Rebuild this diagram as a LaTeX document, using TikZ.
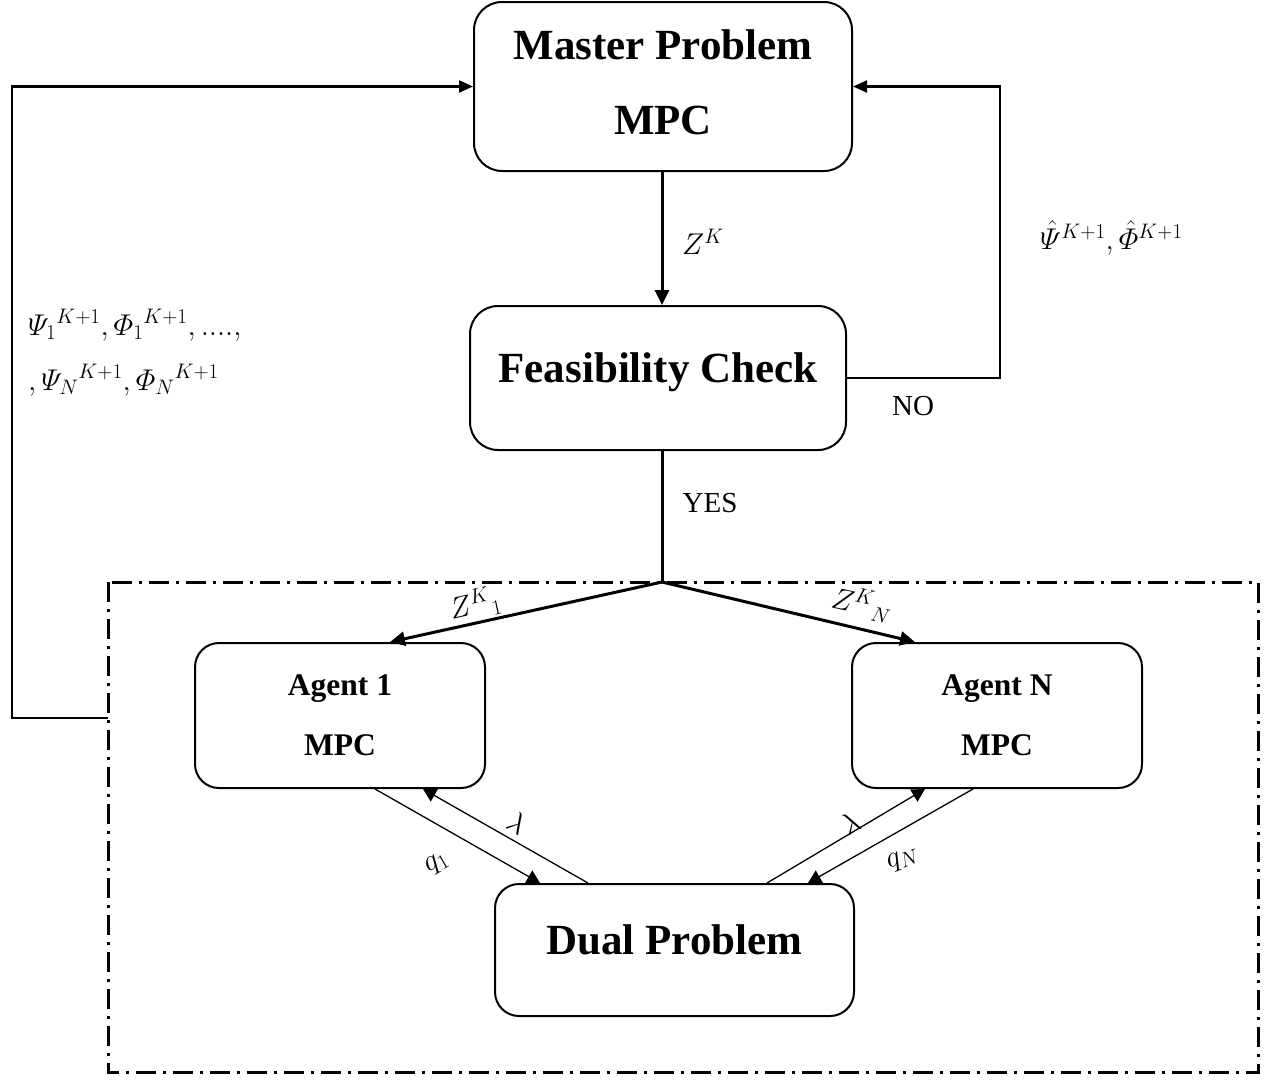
\RequirePackage{fix-cm}
\documentclass[tikz,border=0pt]{standalone}
\usepackage{amsmath}
\usepackage{fontspec}
\setmainfont{Liberation Serif}
\usetikzlibrary{arrows.meta,calc}
\begin{document}
\begin{tikzpicture}[x=1pt,y=1pt,
  box/.style={draw,line width=2pt,rounded corners=28pt,align=center,inner sep=0pt},
  bigtxt/.style={font=\fontsize{43}{75}\selectfont\bfseries},
  midtxt/.style={font=\fontsize{31.5}{60}\selectfont\bfseries},
  lbl/.style={font=\fontsize{29}{34}\selectfont,inner sep=0pt},
  mlbl/.style={font=\fontsize{30}{40}\selectfont,inner sep=0pt},
  thick arrow/.style={line width=3pt,-{Triangle[length=15pt,width=14pt]}},
  thickline/.style={line width=3pt},
  thinarrow/.style={line width=1.3pt,-{Triangle[length=13pt,width=14pt]}},
  loopline/.style={line width=2.2pt,-{Triangle[length=14pt,width=12pt]}},
  dashdot box/.style={line width=3pt,dash pattern=on 20pt off 7pt on 3pt off 7pt}
]
\useasboundingbox (0,0) rectangle (1274,-1079);

% dashed container
\draw[dashdot box] (108,-582) rectangle (1258,-1072);

% boxes
\node[box,bigtxt,minimum width=378pt,minimum height=169pt,text depth=8pt] (m) at (663,-86.5) {Master Problem\\MPC};
\node[box,bigtxt,minimum width=376pt,minimum height=144pt,text depth=21pt] (f) at (658,-378) {Feasibility Check};
\node[box,midtxt,minimum width=290pt,minimum height=145pt,rounded corners=24pt] (a1) at (340,-715.5) {Agent 1\\MPC};
\node[box,midtxt,minimum width=290pt,minimum height=145pt,rounded corners=24pt] (an) at (997,-715.5) {Agent N\\MPC};
\node[box,bigtxt,minimum width=359pt,minimum height=132pt,text depth=20pt,rounded corners=24pt] (d) at (674.5,-950) {Dual Problem};

% coordinates
\coordinate (junc) at (662,-582);
\coordinate (lb) at (108,-718);
\coordinate (rt) at (1000,-378);

% master -> feasibility
\draw[thick arrow] (m.south -| junc) -- (f.north -| junc);
\node[mlbl,anchor=west] (zk) at (682,-242) {$Z^{K}$};

% NO loop
\draw[loopline] (f.east) -- (rt) |- (m.east);
\node[lbl] (no) at (913,-406) {NO};
\node[mlbl,anchor=west] (hat) at (1040,-238) {$\hat{\varPsi}^{K+1},\hat{\varPhi}^{K+1}$};

% left loop
\draw[loopline] (lb) -- ++(-96,0) |- (m.west);
\node[mlbl,anchor=west] (psi1) at (28,-325) {${\varPsi_1}^{K+1},{\varPhi_1}^{K+1},....,$};
\node[mlbl,anchor=west] (psi2) at (28,-380) {$,{\varPsi_N}^{K+1},{\varPhi_N}^{K+1}$};

% YES branch
\draw[thickline] (junc |- f.south) -- (junc);
\node[lbl] (yes) at (710,-503) {YES};
\draw[thick arrow] (junc) -- ($(a1.north)+(50,0)$);
\draw[thick arrow] (junc) -- ($(an.north)+(-82,0)$);
\node[mlbl,rotate=12.6] (z1) at (475,-604) {${Z^{K}}_{1}$};
\node[mlbl,rotate=-12.6] (zn) at (862,-604) {${Z^{K}}_{N}$};

% agent <-> dual
\draw[thinarrow] ($(a1.south)+(35,0)$) -- ($(d.north)+(-134.5,0)$);
\draw[thinarrow] ($(d.north)+(-86.5,0)$) -- ($(a1.south)+(83,0)$);
\draw[thinarrow] ($(d.north)+(92.5,0)$) -- ($(an.south)+(-72,0)$);
\draw[thinarrow] ($(an.south)+(-24,0)$) -- ($(d.north)+(133.5,0)$);
\node[mlbl,rotate=-30] (l1) at (517,-823) {$\lambda$};
\node[mlbl,rotate=30] (q1) at (437,-864) {$q_1$};
\node[mlbl,rotate=30] (l2) at (850,-823) {$\lambda$};
\node[mlbl,rotate=20] (qn) at (903,-860) {$q_N$};
\end{tikzpicture}
\end{document}
